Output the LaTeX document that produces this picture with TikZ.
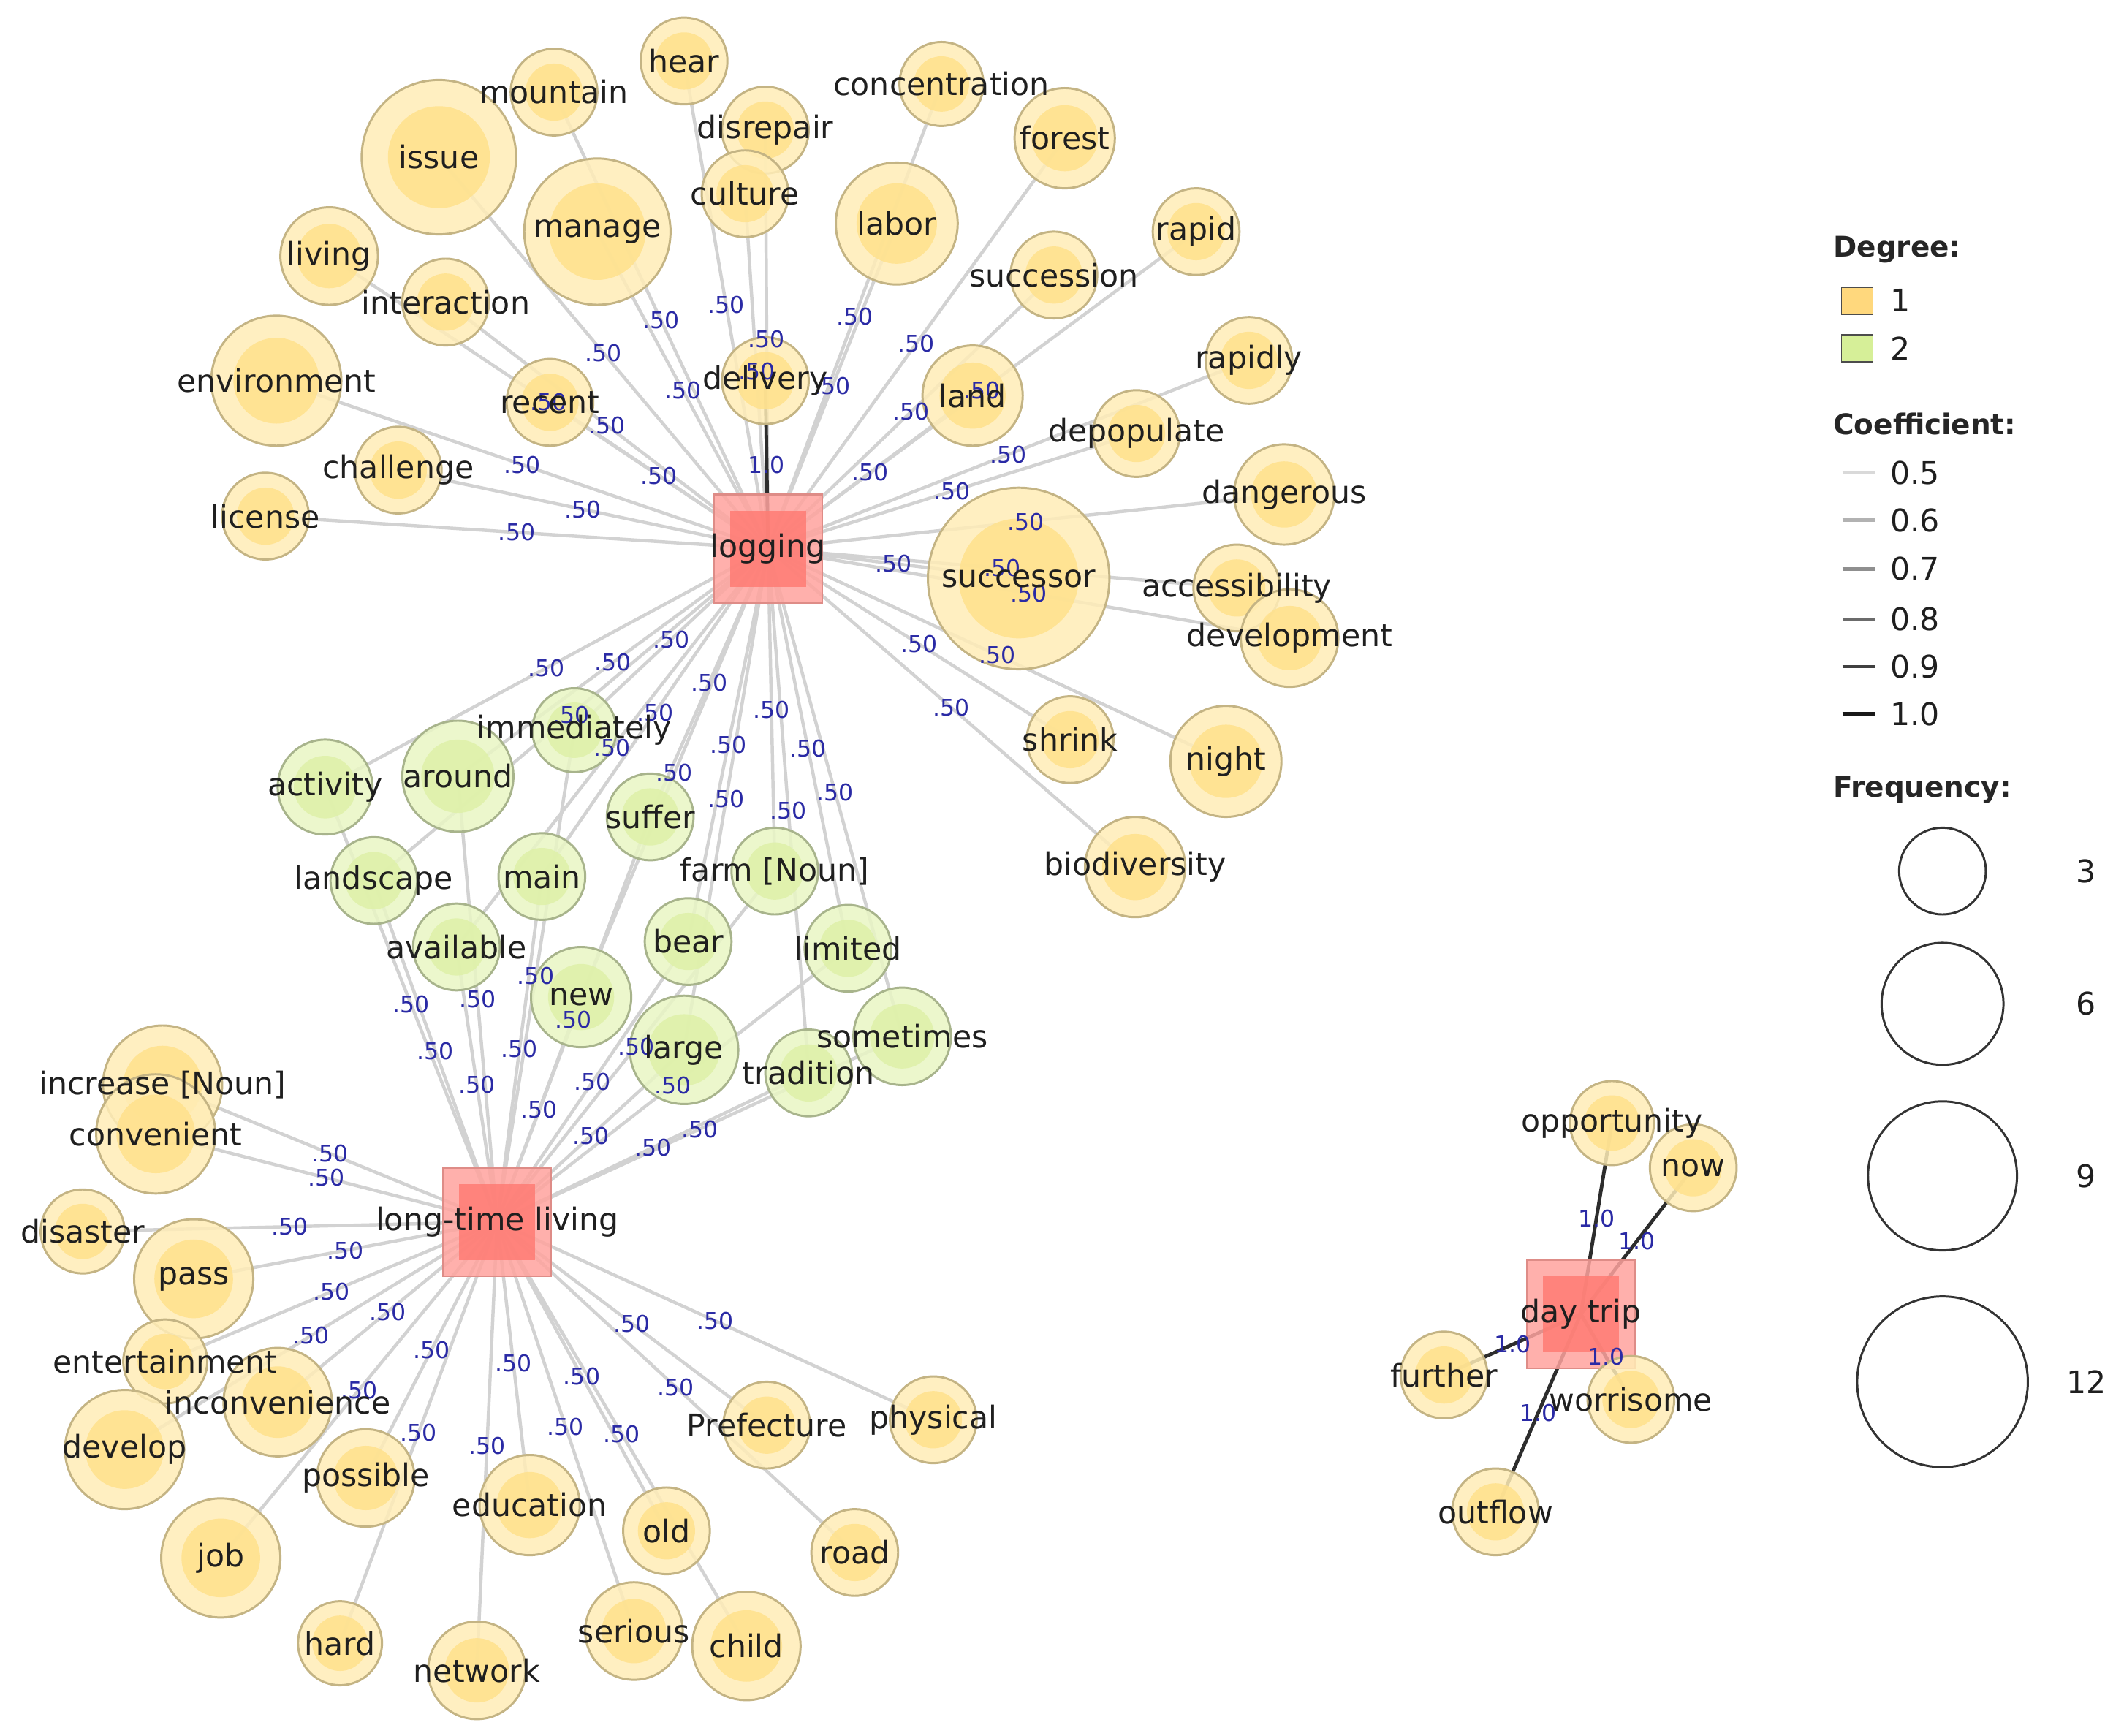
\documentclass[tikz,border=0pt]{standalone}
\usepackage{fontspec}
\setmainfont{DejaVu Sans}
\usepackage{tikz}

\pgfdeclarelayer{edges}
\pgfdeclarelayer{words}
\pgfsetlayers{edges,main,words}

\definecolor{yout}{RGB}{255,237,183}
\definecolor{yin}{RGB}{255,225,140}
\definecolor{ybd}{RGB}{196,180,132}
\definecolor{gout}{RGB}{233,246,196}
\definecolor{gin}{RGB}{222,241,168}
\definecolor{gbd}{RGB}{168,180,140}
\definecolor{sqout}{RGB}{255,163,158}
\definecolor{sqin}{RGB}{255,124,116}
\definecolor{sqbd}{RGB}{222,140,135}
\definecolor{coefblue}{RGB}{42,42,165}
\definecolor{lowedge}{RGB}{210,210,210}
\definecolor{highedge}{RGB}{45,45,45}
\definecolor{yswatch}{RGB}{255,216,125}
\definecolor{gswatch}{RGB}{214,239,152}

% bubbles: name/x/y/radius/text
\def\loglist{issue/324/116/57/issue, mountain/409/68/32/mountain, hear/505/45/32/hear,
  disrepair/565/96/32/disrepair, culture/550/143/32/culture, manage/441/171/54/manage,
  concentration/695/62/31/concentration, forest/786/102/37/forest, labor/662/165/45/labor,
  rapid/883/171/32/rapid, succession/778/203/32/succession, living/243/189/36/living,
  interaction/329/223/32/interaction, environment/204/281/48/environment,
  recent/406/297/32/recent, land/718/292/37/land,
  rapidly/922/266/32/rapidly, depopulate/839/320/32/depopulate, challenge/294/347/32/challenge,
  license/196/381/32/license, dangerous/948/365/37/dangerous, successor/752/427/67/successor,
  accessibility/913/434/32/accessibility, development/952/471/36/development,
  shrink/790/546/32/shrink, night/905/562/41/night, biodiversity/838/640/37/biodiversity}
\def\strongloglist{delivery/565/281/32/delivery}
\def\greenlist{activity/240/581/35/activity, around/338/573/41/around,
  immediately/424/539/31/immediately, suffer/480/603/32/suffer, landscape/276/650/32/landscape,
  main/400/647/32/main, farm/572/643/32/{farm [Noun]}, bear/508/695/32/bear,
  limited/626/700/32/limited, available/337/699/32/available, new/429/736/37/new,
  large/505/775/40/large, tradition/597/792/32/tradition, sometimes/666/765/36/sometimes}
\def\livlist{increase/120/801/44/{increase [Noun]}, convenient/115/837/44/convenient,
  disaster/61/909/31/disaster, pass/143/944/44/pass, entertainment/122/1005/31/entertainment,
  inconvenience/205/1035/40/inconvenience, develop/92/1070/44/develop, job/163/1150/44/job,
  possible/270/1091/36/possible, hard/251/1213/31/hard, network/352/1233/36/network,
  education/391/1111/37/education, old/492/1130/32/old, serious/468/1204/36/serious,
  child/551/1215/40/child, Prefecture/566/1052/32/Prefecture, road/631/1146/32/road,
  physical/689/1048/32/physical}
\def\triplist{opportunity/1190/829/31/opportunity, now/1250/862/32/now,
  further/1066/1015/32/further, worrisome/1204/1033/32/worrisome, outflow/1104/1116/32/outflow}

\begin{document}
\begin{tikzpicture}[x=0.5pt,y=0.5pt,yscale=-1,xscale=1,
  yb/.style={circle, inner sep=0pt, minimum size={#1*1pt}, draw=ybd, line width=0.8pt,
    fill=yout, fill opacity=0.85,
    path picture={\fill[yin] (path picture bounding box.center) circle[radius={0.33*#1*1pt}];}},
  gb/.style={circle, inner sep=0pt, minimum size={#1*1pt}, draw=gbd, line width=0.8pt,
    fill=gout, fill opacity=0.85,
    path picture={\fill[gin] (path picture bounding box.center) circle[radius={0.33*#1*1pt}];}},
  hub/.style={rectangle, inner sep=0pt, minimum size=40pt, draw=sqbd, line width=0.6pt,
    fill=sqout, fill opacity=0.85,
    path picture={\fill[sqin] (path picture bounding box.center) ++(-14pt,-14pt) rectangle ++(28pt,28pt);}},
  word/.style={font=\fontsize{11.5}{13}\selectfont, text=black!88, inner sep=0pt},
  coef/.style={font=\fontsize{8.5}{10}\selectfont, text=coefblue, inner sep=0.5pt},
  weak/.style={draw=lowedge, line width=1.2pt},
  strong/.style={draw=highedge, line width=1.3pt},
  head/.style={font=\bfseries\fontsize{10.5}{12}\selectfont, text=black!85, anchor=west, inner sep=0pt}]
    \useasboundingbox (0,0) rectangle (1568,1281);
    \begin{pgfonlayer}{edges}
    \fill[white] (0,0) rectangle (1568,1281);
    \end{pgfonlayer}

    % Hub Nodes
    \node[hub] (logging) at (567,405) {};
    \node[hub] (longtime) at (367,902) {};
    \node[hub] (daytrip) at (1167,970) {};

    % Bubbles
    \foreach \nm/\x/\y/\r/\t in \loglist {\node[yb=\r] (\nm) at (\x,\y) {};}
    \foreach \nm/\x/\y/\r/\t in \strongloglist {\node[yb=\r] (\nm) at (\x,\y) {};}
    \foreach \nm/\x/\y/\r/\t in \greenlist {\node[gb=\r] (\nm) at (\x,\y) {};}
    \foreach \nm/\x/\y/\r/\t in \livlist {\node[yb=\r] (\nm) at (\x,\y) {};}
    \foreach \nm/\x/\y/\r/\t in \triplist {\node[yb=\r] (\nm) at (\x,\y) {};}

    % Edges
    \foreach \nm/\x/\y/\r/\t in \loglist {
      \begin{pgfonlayer}{edges}\draw[weak] (logging.center) -- (\nm.center);\end{pgfonlayer}
      \path (logging.center) -- node[coef] {.50} (\nm.center);}
    \foreach \nm/\x/\y/\r/\t in \strongloglist {
      \begin{pgfonlayer}{edges}\draw[strong] (logging.center) -- (\nm.center);\end{pgfonlayer}
      \path (logging.center) -- node[coef] {1.0} (\nm.center);}
    \foreach \nm/\x/\y/\r/\t in \greenlist {
      \begin{pgfonlayer}{edges}
      \draw[weak] (logging.center) -- (\nm.center);
      \draw[weak] (longtime.center) -- (\nm.center);
      \end{pgfonlayer}
      \path (logging.center) -- node[coef] {.50} (\nm.center);
      \path (longtime.center) -- node[coef] {.50} (\nm.center);}
    \foreach \nm/\x/\y/\r/\t in \livlist {
      \begin{pgfonlayer}{edges}\draw[weak] (longtime.center) -- (\nm.center);\end{pgfonlayer}
      \path (longtime.center) -- node[coef] {.50} (\nm.center);}
    \foreach \nm/\x/\y/\r/\t in \triplist {
      \begin{pgfonlayer}{edges}\draw[strong] (daytrip.center) -- (\nm.center);\end{pgfonlayer}
      \path (daytrip.center) -- node[coef] {1.0} (\nm.center);}

    % Text Nodes
    \begin{pgfonlayer}{words}
    \foreach \nm/\x/\y/\r/\t in \loglist {\node[word] (t\nm) at (\nm.center) {\t};}
    \foreach \nm/\x/\y/\r/\t in \strongloglist {\node[word] (t\nm) at (\nm.center) {\t};}
    \foreach \nm/\x/\y/\r/\t in \greenlist {\node[word] (t\nm) at (\nm.center) {\t};}
    \foreach \nm/\x/\y/\r/\t in \livlist {\node[word] (t\nm) at (\nm.center) {\t};}
    \foreach \nm/\x/\y/\r/\t in \triplist {\node[word] (t\nm) at (\nm.center) {\t};}
    \node[word] (tlogging) at (logging.center) {logging};
    \node[word] (tlongtime) at (longtime.center) {long-time living};
    \node[word] (tdaytrip) at (daytrip.center) {day trip};
    \end{pgfonlayer}

    % Legend
    \node[head] (degree) at (1353,184) {Degree:};
    \node[rectangle, draw=black!70, fill=yswatch, minimum width=11.5pt, minimum height=10pt, inner sep=0pt] (deg1) at (1371,222) {};
    \node[rectangle, draw=black!70, fill=gswatch, minimum width=11.5pt, minimum height=10pt, inner sep=0pt] (deg2) at (1371,257) {};
    \node[word, anchor=west] (ldeg1) at (1395,222) {1};
    \node[word, anchor=west] (ldeg2) at (1395,257) {2};

    \node[head] (coefficient) at (1353,313) {Coefficient:};
    \foreach \v/\y/\c in {0.5/349/15, 0.6/384/30, 0.7/420/44, 0.8/457/58, 0.9/492/75, 1.0/527/90} {
      \draw[black!\c, line width=1.2pt] (1360,\y) -- (1384,\y);
      \node[word, anchor=west] (lc\y) at (1395,\y) {\v};}

    \node[head] (frequency) at (1353,583) {Frequency:};
    \foreach \f/\y/\r in {3/643/32, 6/741/45, 9/868/55, 12/1020/63} {
      \node[circle, draw=black!80, line width=0.8pt, minimum size={\r*1pt}, inner sep=0pt] (fq\f) at (1434,\y) {};
      \node[word] (lf\f) at (1540,\y) {\f};}
\end{tikzpicture}
\end{document}
